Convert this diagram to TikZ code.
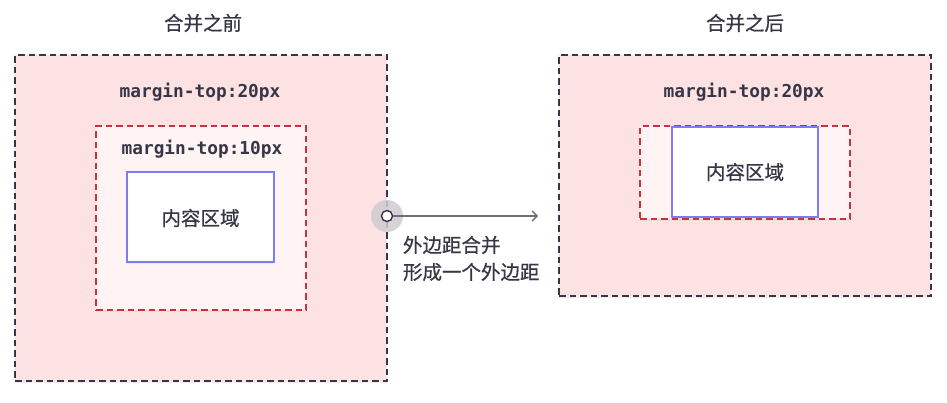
\documentclass[tikz,border=0pt]{standalone}
\usepackage{fontspec}
\usetikzlibrary{arrows.meta,shadows}
\newfontfamily\cjk[FakeBold=0.6]{Noto Sans CJK SC}
\newfontfamily\codefont{DejaVu Sans Mono}
\definecolor{inkc}{HTML}{363646}
\definecolor{outerfill}{HTML}{FDE2E4}
\definecolor{innerfill}{HTML}{FFF3F4}
\definecolor{redline}{HTML}{C8323A}
\definecolor{blueline}{HTML}{7C7CF8}
\definecolor{arrowc}{HTML}{6E6E7E}
\definecolor{halo}{HTML}{CFCBD0}
\begin{document}
\begin{tikzpicture}[x=1pt,y=-1pt,
  every node/.style={inner sep=0pt,outer sep=0pt},
  outerbox/.style={draw=inkc,fill=outerfill,line width=2.2pt,dash pattern=on 6.5pt off 4pt,
    drop shadow={shadow xshift=0pt,shadow yshift=-2pt,opacity=0.12}},
  marginbox/.style={draw=redline,fill=innerfill,line width=2.2pt,dash pattern=on 6.5pt off 4pt,
    drop shadow={shadow xshift=0pt,shadow yshift=-2pt,opacity=0.08}},
  contentbox/.style={draw=blueline,fill=white,line width=2pt,
    drop shadow={shadow xshift=0pt,shadow yshift=-2pt,opacity=0.1}},
  title/.style={text=inkc,font=\cjk\fontsize{19.5}{23}\selectfont},
  code/.style={text=inkc,font=\codefont\bfseries\fontsize{17.8}{20}\selectfont},
  cjklabel/.style={text=inkc,font=\cjk\fontsize{19.5}{23}\selectfont},
]
\useasboundingbox[fill=white] (0,0) rectangle (947,402);

% before merging
\node[title] (t1) at (203,23) {合并之前};
\node[outerbox,minimum width=372pt,minimum height=326pt] (o1) at (201,218) {};
\node[code] (m1) at (200,92) {margin-top:20px};
\node[marginbox,minimum width=210pt,minimum height=184pt] (r1) at (201,218) {};
\node[code] (m2) at (202,149) {margin-top:10px};
\node[contentbox,minimum width=147pt,minimum height=90pt] (c1) at (200.5,217) {};
\node[cjklabel] (l1) at (200.5,218) {内容区域};

% after merging
\node[title] (t2) at (745,23) {合并之后};
\node[outerbox,minimum width=372pt,minimum height=241pt] (o2) at (745,175.5) {};
\node[code] (m3) at (744,92) {margin-top:20px};
\node[marginbox,minimum width=210pt,minimum height=93pt] (r2) at (745,172.5) {};
\node[contentbox,minimum width=146pt,minimum height=90pt] (c2) at (745,172) {};
\node[cjklabel] (l2) at (745,172) {内容区域};

% transition arrow
\node[circle,fill=halo,fill opacity=0.85,minimum size=32pt] (halo) at (387,216) {};
\node[circle,draw=inkc,fill=white,line width=1.4pt,minimum size=11pt] (dot) at (387,216) {};
\coordinate (tip) at (538,216);
\draw[arrowc,line width=1.4pt,-{Straight Barb[length=5pt,width=10pt,line width=1.4pt]}] (dot) -- (tip);
\node[cjklabel,anchor=west] (n1) at (403,245) {外边距合并};
\node[cjklabel,anchor=west] (n2) at (403,272) {形成一个外边距};
\end{tikzpicture}
\end{document}
